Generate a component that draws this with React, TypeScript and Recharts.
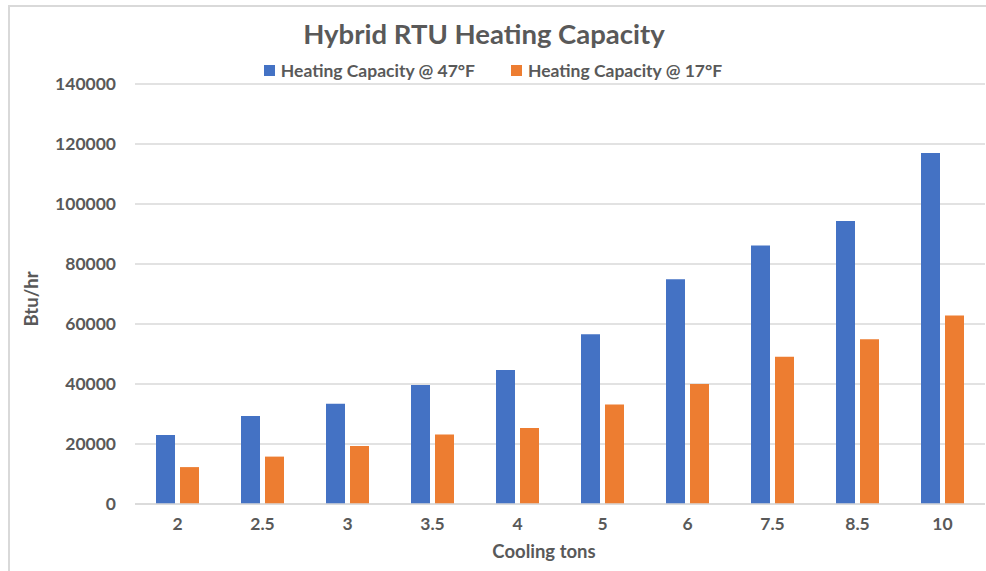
import { BarChart, Bar, XAxis, YAxis, CartesianGrid, Legend, Label } from 'recharts'

const coolingTons = ['2', '2.5', '3', '3.5', '4', '5', '6', '7.5', '8.5', '10']
const capacity47F = [23000, 29300, 33400, 39700, 44700, 56600, 74900, 86200, 94300, 117000]
const capacity17F = [12300, 15800, 19300, 23200, 25300, 33200, 40000, 49100, 54900, 62800]
const yTicks = [0, 20000, 40000, 60000, 80000, 100000, 120000, 140000]

const SERIES_47 = 'Heating Capacity @ 47°F'
const SERIES_17 = 'Heating Capacity @ 17°F'

const data = coolingTons.map((t, i) => ({
  tons: t,
  [SERIES_47]: capacity47F[i],
  [SERIES_17]: capacity17F[i],
}))

const FONT = 'Lato, "Open Sans", sans-serif'
const TEXT = '#595959'
const GRID = '#d9d9d9'

function LegendContent() {
  const items = [
    { name: SERIES_47, color: '#4472C4' },
    { name: SERIES_17, color: '#ED7D31' },
  ]
  return (
    <div style={{ display: 'flex', justifyContent: 'center', gap: 36, fontFamily: FONT, fontWeight: 700, fontSize: 17.5, color: TEXT }}>
      {items.map(it => (
        <div key={it.name} style={{ display: 'flex', alignItems: 'center', gap: 6 }}>
          <span style={{ width: 11, height: 11, background: it.color, display: 'inline-block' }} />
          <span>{it.name}</span>
        </div>
      ))}
    </div>
  )
}

export default function App() {
  return (
    <div style={{ position: 'absolute', left: 0, top: 0, width: 986, height: 571, background: '#fff', overflow: 'hidden' }}>
      <div style={{ position: 'absolute', left: 8, top: 5, right: 0, bottom: 0, borderLeft: `2px solid ${GRID}`, borderTop: `2px solid ${GRID}` }} />
      <div style={{ position: 'absolute', left: 0, top: 17, width: 968, textAlign: 'center', fontFamily: FONT, fontWeight: 700, fontSize: 27.5, color: TEXT }}>
        Hybrid RTU Heating Capacity
      </div>
      <BarChart
        width={986}
        height={571}
        data={data}
        margin={{ top: 84, right: 1, bottom: 37, left: 20 }}
        barGap={5}
        barSize={19}
        style={{ position: 'absolute', left: 0, top: 0 }}
      >
        <CartesianGrid vertical={false} stroke={GRID} strokeWidth={1.5} />
        <XAxis
          dataKey="tons"
          height={30}
          axisLine={{ stroke: GRID, strokeWidth: 1.5 }}
          tickLine={false}
          tickMargin={8}
          tick={{ fill: TEXT, fontFamily: FONT, fontWeight: 700, fontSize: 17.5 }}
        >
          <Label
            content={() => (
              <text x={544} y={558} textAnchor="middle" fill={TEXT} fontFamily={FONT} fontWeight={700} fontSize={18.5}>
                Cooling tons
              </text>
            )}
          />
        </XAxis>
        <YAxis
          width={115}
          domain={[0, 140000]}
          ticks={yTicks}
          axisLine={false}
          tickLine={false}
          tickMargin={13}
          tick={{ fill: TEXT, fontFamily: FONT, fontWeight: 700, fontSize: 17.5 }}
        >
          <Label
            content={(props: any) => {
              const vb = props.viewBox || { y: 84, height: 420 }
              const cy = vb.y + vb.height / 2 + 5
              return (
                <text x={38} y={cy} transform={`rotate(-90 38 ${cy})`} textAnchor="middle" fill={TEXT} fontFamily={FONT} fontWeight={700} fontSize={18.5}>
                  Btu/hr
                </text>
              )
            }}
          />
        </YAxis>
        <Legend
          layout="horizontal"
          verticalAlign="middle"
          align="center"
          content={<LegendContent />}
          wrapperStyle={{ top: 60, left: 0, width: 986 }}
        />
        <Bar dataKey={SERIES_47} fill="#4472C4" isAnimationActive={false} />
        <Bar dataKey={SERIES_17} fill="#ED7D31" isAnimationActive={false} />
      </BarChart>
    </div>
  )
}
